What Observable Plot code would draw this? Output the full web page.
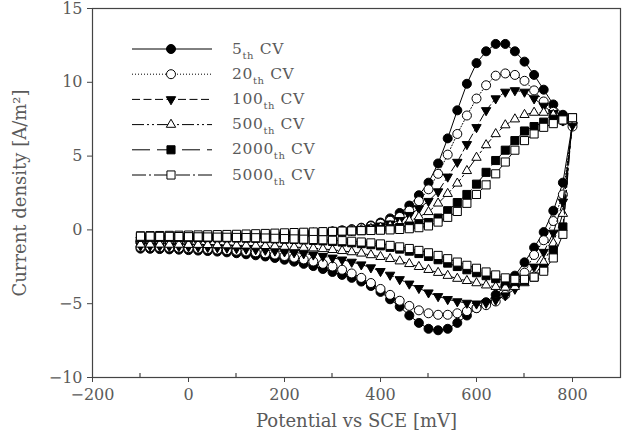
<!DOCTYPE html>
<html>
<head>
<meta charset="utf-8">
<script src="https://cdn.jsdelivr.net/npm/d3@7"></script>
<script src="https://cdn.jsdelivr.net/npm/@observablehq/plot@0.6"></script>
<style>
  html, body { margin: 0; padding: 0; background: #fff; }
</style>
</head>
<body>
<div id="chart"></div>
<script>
// Axis ticks
const xTicks = [-200, 0, 200, 400, 600, 800];
const xMinorTicks = [-100, 100, 300, 500, 700];
const yTicks = [-10, -5, 0, 5, 10, 15];

// Cycle numbers shown in the legend
const cycles = ["5", "20", "100", "500", "2000", "5000"];

// Forward (anodic) sweep potentials, mV
const forwardPotential = [
  -100, -80, -60, -40, -20, 0, 20, 40, 60, 80,
  100, 120, 140, 160, 180, 200, 220, 240, 260, 280,
  300, 320, 340, 360, 380, 400, 420, 440, 460, 480,
  500, 520, 540, 560, 580, 600, 620, 640, 660, 680,
  700, 720, 740, 760, 780, 800
];

// Current density on the forward sweep, A/m2
const cv5Forward = [
  -0.80, -0.78, -0.76, -0.74, -0.72, -0.69, -0.66, -0.63, -0.60, -0.57,
  -0.54, -0.50, -0.46, -0.42, -0.38, -0.34, -0.29, -0.25, -0.20, -0.15,
  -0.10, -0.03, 0.05, 0.15, 0.30, 0.50, 0.78, 1.15, 1.65, 2.35,
  3.20, 4.50, 6.20, 8.10, 9.90, 11.30, 12.10, 12.60, 12.60, 12.10,
  11.40, 10.50, 9.50, 8.50, 7.80, 7.20
];
const cv20Forward = [
  -0.75, -0.73, -0.71, -0.69, -0.67, -0.65, -0.63, -0.60, -0.57, -0.54,
  -0.51, -0.48, -0.45, -0.42, -0.38, -0.35, -0.31, -0.27, -0.22, -0.17,
  -0.12, -0.06, 0.02, 0.12, 0.25, 0.42, 0.62, 0.88, 1.30, 1.95,
  2.75, 3.80, 5.10, 6.50, 7.75, 8.90, 9.80, 10.45, 10.60, 10.50,
  10.10, 9.45, 8.70, 8.00, 7.40, 7.00
];
const cv100Forward = [
  -0.70, -0.68, -0.66, -0.64, -0.62, -0.60, -0.58, -0.56, -0.53, -0.50,
  -0.48, -0.45, -0.42, -0.39, -0.36, -0.33, -0.30, -0.27, -0.23, -0.19,
  -0.14, -0.09, -0.02, 0.06, 0.16, 0.28, 0.42, 0.65, 1.00, 1.45,
  1.95, 2.60, 3.60, 4.60, 5.80, 6.95, 8.10, 8.90, 9.35, 9.45,
  9.35, 8.90, 8.40, 7.90, 7.40, 7.10
];
const cv500Forward = [
  -0.65, -0.63, -0.61, -0.59, -0.57, -0.55, -0.53, -0.51, -0.49, -0.47,
  -0.45, -0.43, -0.40, -0.37, -0.34, -0.31, -0.28, -0.25, -0.22, -0.19,
  -0.15, -0.11, -0.06, 0.00, 0.08, 0.17, 0.28, 0.42, 0.62, 0.88,
  1.22, 1.80, 2.45, 3.15, 4.00, 4.90, 5.75, 6.50, 7.10, 7.50,
  7.80, 7.95, 7.95, 7.80, 7.60, 7.40
];
const cv2000Forward = [
  -0.50, -0.49, -0.48, -0.47, -0.46, -0.45, -0.44, -0.43, -0.42, -0.41,
  -0.39, -0.37, -0.35, -0.33, -0.31, -0.29, -0.27, -0.24, -0.21, -0.17,
  -0.14, -0.11, -0.08, -0.05, -0.02, 0.02, 0.08, 0.16, 0.26, 0.36,
  0.50, 0.80, 1.30, 1.85, 2.40, 3.10, 3.90, 4.70, 5.40, 6.05,
  6.70, 7.00, 7.30, 7.50, 7.65, 7.60
];
const cv5000Forward = [
  -0.40, -0.39, -0.38, -0.37, -0.36, -0.35, -0.34, -0.33, -0.32, -0.31,
  -0.30, -0.28, -0.26, -0.24, -0.22, -0.20, -0.18, -0.16, -0.14, -0.12,
  -0.10, -0.08, -0.07, -0.05, -0.04, -0.02, 0.00, 0.03, 0.08, 0.15,
  0.27, 0.53, 0.85, 1.25, 1.80, 2.40, 3.05, 3.80, 4.60, 5.40,
  6.05, 6.50, 6.95, 7.20, 7.45, 7.60
];

// Current density on the reverse sweep, from 780 mV back to -100 mV
const cv5Reverse = [
  3.20, 1.30, -0.15, -1.20, -2.20, -3.10, -3.80, -4.40, -4.90, -5.30,
  -5.80, -6.30, -6.70, -6.80, -6.70, -6.30, -5.80, -5.20, -4.70, -4.20,
  -3.80, -3.50, -3.25, -3.05, -2.85, -2.65, -2.45, -2.30, -2.15, -2.02,
  -1.90, -1.80, -1.72, -1.65, -1.58, -1.52, -1.47, -1.43, -1.40, -1.37,
  -1.34, -1.32, -1.30, -1.28, -1.27
];
const cv20Reverse = [
  2.40, 0.60, -0.70, -1.70, -2.90, -3.80, -4.40, -4.85, -5.10, -5.30,
  -5.50, -5.65, -5.75, -5.75, -5.65, -5.45, -5.15, -4.80, -4.40, -4.00,
  -3.60, -3.25, -2.95, -2.70, -2.48, -2.30, -2.14, -2.00, -1.88, -1.77,
  -1.67, -1.59, -1.52, -1.46, -1.41, -1.37, -1.33, -1.30, -1.27, -1.24,
  -1.22, -1.20, -1.18, -1.17, -1.16
];
const cv100Reverse = [
  1.90, -0.20, -1.50, -2.50, -3.30, -4.00, -4.45, -4.75, -4.95, -5.00,
  -4.95, -4.85, -4.70, -4.50, -4.25, -3.95, -3.65, -3.35, -3.05, -2.80,
  -2.55, -2.35, -2.17, -2.02, -1.89, -1.78, -1.68, -1.60, -1.53, -1.47,
  -1.41, -1.36, -1.32, -1.28, -1.25, -1.22, -1.19, -1.17, -1.15, -1.13,
  -1.11, -1.10, -1.09, -1.08, -1.07
];
const cv500Reverse = [
  1.10, -0.90, -2.20, -3.10, -3.60, -3.85, -3.90, -3.85, -3.75, -3.60,
  -3.45, -3.30, -3.10, -2.90, -2.70, -2.50, -2.30, -2.12, -1.96, -1.82,
  -1.70, -1.59, -1.50, -1.42, -1.35, -1.29, -1.24, -1.20, -1.16, -1.13,
  -1.10, -1.08, -1.06, -1.05, -1.04, -1.03, -1.02, -1.01, -1.00, -1.00,
  -0.99, -0.99, -0.98, -0.98, -0.98
];
const cv2000Reverse = [
  0.20, -1.40, -2.60, -3.20, -3.45, -3.50, -3.45, -3.30, -3.10, -2.90,
  -2.70, -2.48, -2.25, -2.02, -1.80, -1.60, -1.44, -1.30, -1.18, -1.08,
  -1.00, -0.93, -0.87, -0.82, -0.78, -0.74, -0.71, -0.68, -0.65, -0.63,
  -0.61, -0.59, -0.57, -0.56, -0.55, -0.54, -0.53, -0.52, -0.51, -0.50,
  -0.50, -0.49, -0.49, -0.48, -0.48
];
const cv5000Reverse = [
  -0.30, -1.90, -2.80, -3.20, -3.35, -3.35, -3.25, -3.05, -2.85, -2.60,
  -2.40, -2.18, -1.95, -1.73, -1.55, -1.39, -1.26, -1.15, -1.05, -0.95,
  -0.88, -0.82, -0.77, -0.73, -0.70, -0.67, -0.65, -0.63, -0.61, -0.59,
  -0.57, -0.55, -0.53, -0.52, -0.51, -0.50, -0.49, -0.48, -0.47, -0.46,
  -0.45, -0.44, -0.44, -0.43, -0.43
];

// Reverse sweep runs from 780 mV down to -100 mV
const reversePotential = forwardPotential.slice(0, -1).reverse();

// Marker shapes
const markerCircle = d3.symbolCircle;
const markerSquare = {
  draw(ctx, size) {
    const s = Math.sqrt(size / Math.PI) * 0.9;
    ctx.rect(-s, -s, 2 * s, 2 * s);
  }
};
const markerTriangleUp = {
  draw(ctx, size) {
    const r = Math.sqrt(size / Math.PI) * 1.2;
    const h = r * Math.sqrt(3) / 2;
    ctx.moveTo(0, -r);
    ctx.lineTo(h, r / 2);
    ctx.lineTo(-h, r / 2);
    ctx.closePath();
  }
};
const markerTriangleDown = {
  draw(ctx, size) {
    const r = Math.sqrt(size / Math.PI) * 1.2;
    const h = r * Math.sqrt(3) / 2;
    ctx.moveTo(0, r);
    ctx.lineTo(h, -r / 2);
    ctx.lineTo(-h, -r / 2);
    ctx.closePath();
  }
};

// Line and marker style per cycle
const looks = {
  "5":    {symbol: markerCircle,       fill: "#000", dash: null},
  "20":   {symbol: markerCircle,       fill: "#fff", dash: "1,2"},
  "100":  {symbol: markerTriangleDown, fill: "#000", dash: "8,3.5"},
  "500":  {symbol: markerTriangleUp,   fill: "#fff", dash: "12,3,2,3,2,3"},
  "2000": {symbol: markerSquare,       fill: "#000", dash: "18,7"},
  "5000": {symbol: markerSquare,       fill: "#fff", dash: "14,3,2,3"}
};

const sweeps = {
  "5":    [cv5Forward, cv5Reverse],
  "20":   [cv20Forward, cv20Reverse],
  "100":  [cv100Forward, cv100Reverse],
  "500":  [cv500Forward, cv500Reverse],
  "2000": [cv2000Forward, cv2000Reverse],
  "5000": [cv5000Forward, cv5000Reverse]
};

// One closed loop per cycle: forward sweep followed by the reverse sweep
const loops = cycles.map(cycle => {
  const [fwd, rev] = sweeps[cycle];
  return [
    ...forwardPotential.map((p, i) => ({cycle, potential: p, current: fwd[i]})),
    ...reversePotential.map((p, i) => ({cycle, potential: p, current: rev[i]}))
  ];
});

const R = 4.5;        // marker radius
const textColor = "#5a5a5a";
const axisColor = "#444";
const font = "DejaVu Serif";

// Minor x ticks pointing into the frame
function minorTicks(index, {x, y}) {
  const g = d3.create("svg:g");
  const y0 = y(-10);
  for (const v of xMinorTicks) {
    g.append("line")
      .attr("x1", x(v)).attr("x2", x(v))
      .attr("y1", y0).attr("y2", y0 - 4)
      .attr("stroke", axisColor).attr("stroke-width", 1.2);
  }
  return g.node();
}

// Legend in the upper left corner of the frame
function legend(index, scales, values, dims) {
  const g = d3.create("svg:g");
  const left = dims.marginLeft + 40;
  const top = dims.marginTop + 41;
  const step = 25.2;
  cycles.forEach((cycle, i) => {
    const look = looks[cycle];
    const cy = top + i * step;
    g.append("line")
      .attr("x1", left).attr("x2", left + 80)
      .attr("y1", cy).attr("y2", cy)
      .attr("stroke", "#000").attr("stroke-width", 1)
      .attr("stroke-dasharray", look.dash);
    g.append("path")
      .attr("transform", `translate(${left + 39},${cy})`)
      .attr("d", d3.symbol(look.symbol, R * R * Math.PI)())
      .attr("fill", look.fill).attr("stroke", "#000").attr("stroke-width", 1);
    const t = g.append("text")
      .attr("x", left + 100).attr("y", cy).attr("dy", "0.3em")
      .attr("text-anchor", "start")
      .attr("fill", textColor)
      .attr("font-family", font).attr("font-size", 15.5)
      .attr("letter-spacing", 0.6);
    t.append("tspan").text(cycle);
    t.append("tspan").attr("dy", 5).attr("font-size", 10).text("th");
    t.append("tspan").attr("dy", -5).text(" CV");
  });
  return g.node();
}

const marks = [];
loops.forEach(rows => {
  const look = looks[rows[0].cycle];
  marks.push(Plot.line(rows, {
    x: "potential", y: "current",
    stroke: "#000", strokeWidth: 1,
    strokeDasharray: look.dash
  }));
  marks.push(Plot.dot(rows, {
    x: "potential", y: "current",
    symbol: look.symbol, r: R,
    fill: look.fill, stroke: "#000", strokeWidth: 1
  }));
});

const chart = Plot.plot({
  width: 623,
  height: 442,
  marginLeft: 92,
  marginRight: 3,
  marginTop: 8,
  marginBottom: 65,
  style: {background: "#fff", fontFamily: font, color: textColor},
  x: {domain: [-200, 900]},
  y: {domain: [-10, 15]},
  marks: [
    ...marks,
    Plot.frame({stroke: axisColor, strokeWidth: 1.2}),
    Plot.axisX({
      ticks: xTicks, tickSize: 5, tickPadding: 6,
      fontSize: 16, stroke: axisColor, fill: textColor, label: null
    }),
    Plot.axisY({
      ticks: yTicks, tickSize: 5, tickPadding: 5,
      fontSize: 16, stroke: axisColor, fill: textColor, label: null
    }),
    minorTicks,
    legend,
    Plot.text(["Potential vs SCE [mV]"], {
      frameAnchor: "bottom", dy: 44, lineAnchor: "middle", textAnchor: "middle",
      fontSize: 18, fill: textColor, letterSpacing: 1.7
    }),
    Plot.text(["Current density [A/m²]"], {
      frameAnchor: "left", dx: -72, rotate: -90, lineAnchor: "middle", textAnchor: "middle",
      fontSize: 18, fill: textColor, letterSpacing: 1.7
    })
  ]
});

document.getElementById("chart").appendChild(chart);
</script>
</body>
</html>
